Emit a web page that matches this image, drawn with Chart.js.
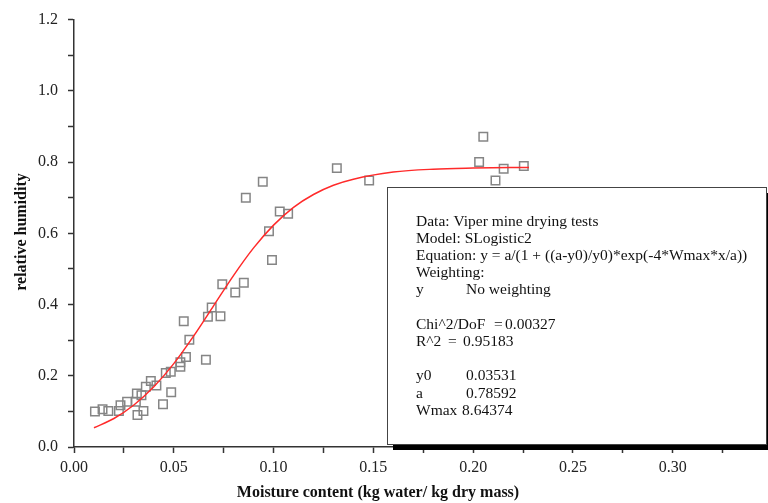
<!DOCTYPE html>
<html>
<head>
<meta charset="utf-8">
<script src="https://cdn.jsdelivr.net/npm/chart.js@4"></script>
<style>
  body { margin: 0; background: #fff; }
  canvas { display: block; }
</style>
</head>
<body>
<canvas id="dryingChart" width="768" height="503"></canvas>
<script>
// measured points (moisture content vs relative humidity)
const moisture = [0.0105, 0.0143, 0.0172, 0.0225, 0.0233, 0.0266, 0.0310, 0.0318, 0.0348, 0.0315,
                  0.0338, 0.0360, 0.0385, 0.0413, 0.0446, 0.0487, 0.0460, 0.0485, 0.0533, 0.0533,
                  0.0550, 0.0561, 0.0578, 0.0661, 0.0671, 0.0690, 0.0734, 0.0743, 0.0808, 0.0851,
                  0.0861, 0.0946, 0.0977, 0.0992, 0.1031, 0.1073, 0.1317, 0.1479, 0.2030, 0.2051,
                  0.2112, 0.2153, 0.2254];
const humidity = [0.100, 0.106, 0.101, 0.101, 0.117, 0.127, 0.127, 0.090, 0.101, 0.150,
                  0.145, 0.169, 0.185, 0.173, 0.120, 0.154, 0.208, 0.211, 0.225, 0.238,
                  0.353, 0.253, 0.301, 0.245, 0.366, 0.392, 0.367, 0.457, 0.434, 0.461,
                  0.700, 0.745, 0.606, 0.525, 0.661, 0.655, 0.783, 0.748, 0.800, 0.871,
                  0.748, 0.781, 0.789];

// fitted curve
const fitX = [0.010, 0.020, 0.030, 0.040, 0.050, 0.060, 0.070, 0.080, 0.090, 0.100,
              0.110, 0.120, 0.130, 0.140, 0.160, 0.180, 0.200, 0.228];
const fitY = [0.054, 0.080, 0.118, 0.169, 0.234, 0.312, 0.397, 0.482, 0.559, 0.623,
              0.673, 0.709, 0.735, 0.752, 0.772, 0.780, 0.783, 0.785];

// text of the results box, each line as [text, x] pieces
const infoLines = [
    [['Data: Viper mine drying tests', 416]],
    [['Model: SLogistic2', 416]],
    [['Equation: y = a/(1 + ((a-y0)/y0)*exp(-4*Wmax*x/a))', 416]],
    [['Weighting:', 416]],
    [['y', 416], ['No weighting', 466]],
    [],
    [['Chi^2/DoF', 416], ['=', 494], ['0.00327', 505]],
    [['R^2', 416], ['=', 448], ['0.95183', 463]],
    [],
    [['y0', 416], ['0.03531', 466]],
    [['a', 416], ['0.78592', 466]],
    [['Wmax', 416], ['8.64374', 462]]
];

const serif = "'Liberation Serif', 'Times New Roman', serif";

const points = moisture.map((x, i) => ({ x: x, y: humidity[i] }));
const curve = fitX.map((x, i) => ({ x: x, y: fitY[i] }));

// axis titles + the fit info box
const extras = {
    id: 'extras',
    afterDraw(chart) {
        const ctx = chart.ctx;
        ctx.save();
        ctx.fillStyle = '#111';
        ctx.font = 'bold 16px ' + serif;
        ctx.textAlign = 'center';
        ctx.textBaseline = 'middle';
        ctx.fillText('Moisture content (kg water/ kg dry mass)', 378, 493);
        ctx.translate(22, 232);
        ctx.rotate(-Math.PI / 2);
        ctx.fillText('relative humidity', 0, 0);
        ctx.restore();

        // box with drop shadow
        ctx.save();
        ctx.fillStyle = '#000';
        ctx.fillRect(393, 193, 379, 257);
        ctx.fillStyle = '#fff';
        ctx.fillRect(387, 187, 379, 257);
        ctx.strokeStyle = '#444';
        ctx.lineWidth = 1;
        ctx.strokeRect(387.5, 187.5, 379, 257);
        ctx.fillStyle = '#111';
        ctx.font = '15.5px ' + serif;
        ctx.textAlign = 'left';
        ctx.textBaseline = 'middle';
        infoLines.forEach((ln, i) => {
            const y = 221.5 + i * 17.2;
            ln.forEach((p) => ctx.fillText(p[0], p[1], y));
        });
        ctx.restore();
    }
};

new Chart(document.getElementById('dryingChart'), {
    type: 'scatter',
    data: {
        datasets: [{
            label: 'SLogistic2 fit',
            data: curve,
            showLine: true,
            borderColor: '#ff2a2a',
            borderWidth: 1.5,
            pointRadius: 0,
            cubicInterpolationMode: 'monotone',
            fill: false
        }, {
            label: 'Viper mine drying tests',
            data: points,
            pointStyle: 'rect',
            pointRadius: 6,
            borderColor: '#858585',
            borderWidth: 1.5,
            backgroundColor: 'rgba(0,0,0,0)'
        }]
    },
    options: {
        responsive: false,
        animation: false,
        layout: { padding: { top: 18, right: 0, left: 0, bottom: 0 } },
        plugins: {
            legend: { display: false },
            tooltip: { enabled: false }
        },
        scales: {
            x: {
                type: 'linear',
                min: 0,
                max: 0.344,
                afterFit: (scale) => { scale.height = 56; },
                border: { display: true, color: '#333', width: 1.5 },
                grid: { drawOnChartArea: false, drawTicks: true, tickLength: 6, tickColor: '#333', tickWidth: 1.5 },
                ticks: {
                    stepSize: 0.025,
                    includeBounds: false,
                    autoSkip: false,
                    maxRotation: 0,
                    padding: 5,
                    color: '#222',
                    font: { family: serif, size: 16 },
                    callback: (v) => Math.round(v * 1000) % 50 === 0 ? v.toFixed(2) : ''
                }
            },
            y: {
                min: 0,
                max: 1.2,
                afterFit: (scale) => { scale.width = 74; },
                border: { display: true, color: '#333', width: 1.5 },
                grid: { drawOnChartArea: false, drawTicks: true, tickLength: 6, tickColor: '#333', tickWidth: 1.5 },
                ticks: {
                    stepSize: 0.1,
                    autoSkip: false,
                    padding: 10,
                    color: '#222',
                    font: { family: serif, size: 16 },
                    callback: (v) => Math.round(v * 10) % 2 === 0 ? v.toFixed(1) : ''
                }
            }
        }
    },
    plugins: [extras]
});
</script>
</body>
</html>
